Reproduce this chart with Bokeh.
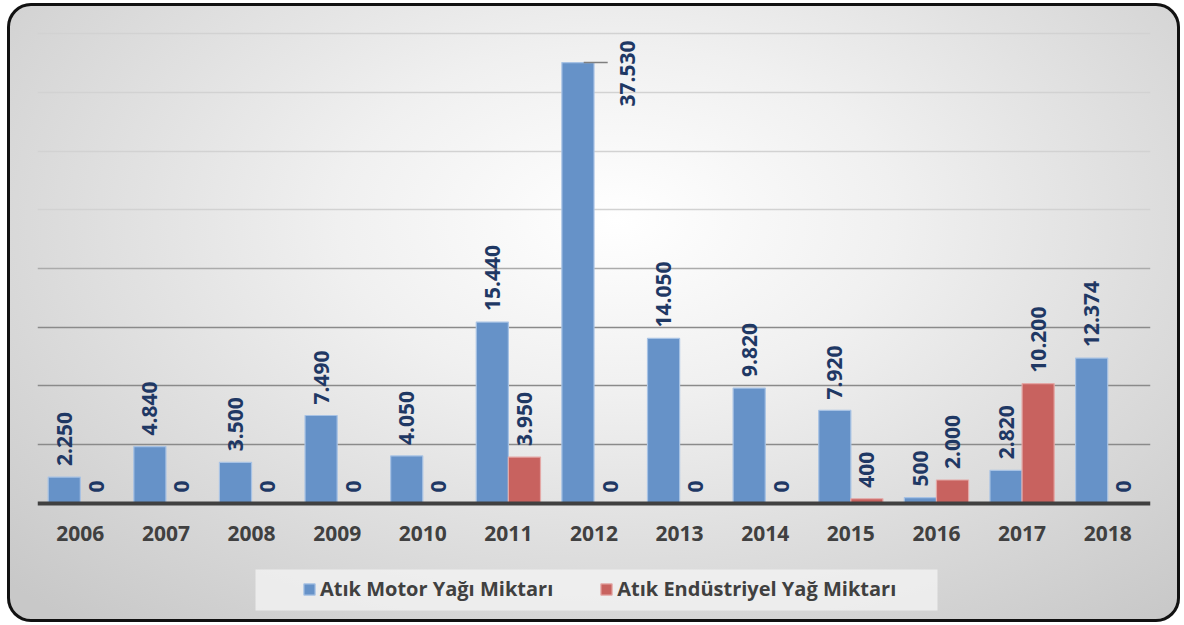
import math
from bokeh.plotting import figure
from bokeh.models import (Range1d, FixedTicker, Grid, Legend, LegendItem,
                          ColumnDataSource, BoxAnnotation)
from bokeh.core.properties import value
from bokeh.embed import file_html
from bokeh.resources import INLINE

# ---------------- data ----------------
years = ["2006", "2007", "2008", "2009", "2010", "2011", "2012",
         "2013", "2014", "2015", "2016", "2017", "2018"]
motor_oil = [2250, 4840, 3500, 7490, 4050, 15440, 37530,
             14050, 9820, 7920, 500, 2820, 12374]
industrial_oil = [0, 0, 0, 0, 0, 3950, 0, 0, 0, 400, 2000, 10200, 0]
series_names = ["Atık Motor Yağı Miktarı", "Atık Endüstriyel Yağ Miktarı"]
grid_values = [5000, 10000, 15000, 20000, 25000, 30000, 35000, 40000]

# ---------------- style ----------------
FONT = "Open Sans"
BLUE, BLUE_EDGE = "#6692c8", "#a7c2e4"
RED, RED_EDGE = "#c8625f", "#e4a8a6"
LABEL_COLOR = "#1f3864"
AXIS_COLOR = "#404040"
BAR_W = 0.375
# frame extends below the baseline so the legend can sit inside it
Y_START, Y_END = -9280, 41790


def fmt(v):
    return f"{v:,}".replace(",", ".")


idx = list(range(len(years)))
src_m = ColumnDataSource(dict(x=[i - BAR_W / 2 for i in idx], top=motor_oil))
src_i = ColumnDataSource(dict(x=[i + BAR_W / 2 for i in idx], top=industrial_oil))

p = figure(width=1173, height=619, output_backend="svg", toolbar_location=None,
           x_range=Range1d(-0.5, len(years) - 0.5), y_range=Range1d(Y_START, Y_END),
           y_axis_location=None, min_border_left=30, min_border_right=30,
           min_border_top=9, min_border_bottom=10)
p.outline_line_color = None
p.background_fill_alpha = 0
p.border_fill_alpha = 0
p.styles = {
    "margin": "3px 0 0 7px",
    "background": "radial-gradient(ellipse 72% 85% at 52% 35%, #ffffff 0%, #f0f0f0 33%, #d5d5d5 78%, #c8c8c8 100%)",
    "border-radius": "24px",
    "box-shadow": "inset 0 0 0 3px #111111",
}

# grid lines (darker near the base, lighter above)
p.xgrid.visible = False
p.ygrid.ticker = FixedTicker(ticks=grid_values[:3])
p.ygrid.grid_line_color = "#8a8a8a"
p.ygrid.grid_line_width = 1.5
g2 = Grid(dimension=1, ticker=FixedTicker(ticks=grid_values[3:4]),
          grid_line_color="#ababab", grid_line_width=1.5)
g3 = Grid(dimension=1, ticker=FixedTicker(ticks=grid_values[4:]),
          grid_line_color="#d2d2d2", grid_line_width=1.5)
p.add_layout(g2)
p.add_layout(g3)

# bars
rb = p.vbar(x="x", top="top", width=BAR_W, source=src_m, fill_color=BLUE,
            line_color=BLUE_EDGE, line_width=1.2)
rr = p.vbar(x="x", top="top", width=BAR_W, source=src_i, fill_color=RED,
            line_color=RED_EDGE, line_width=1.2)

# data labels
normal = dict(x=[], y=[], t=[])
high = dict(x=[], y=[], t=[])
for xs, vals in ((src_m.data["x"], motor_oil), (src_i.data["x"], industrial_oil)):
    for x, v in zip(xs, vals):
        target = high if v > 0.85 * 40000 else normal
        target["x"].append(x)
        target["y"].append(v)
        target["t"].append(fmt(v))

p.text(x="x", y="y", text="t", source=ColumnDataSource(normal), angle=math.pi / 2,
       text_align="left", text_baseline="middle", y_offset=-11,
       text_font=value(FONT), text_font_style="bold", text_font_size="21px",
       text_color=LABEL_COLOR)
p.text(x="x", y="y", text="t", source=ColumnDataSource(high), angle=math.pi / 2,
       text_align="right", text_baseline="middle", x_offset=50, y_offset=-22,
       text_font=value(FONT), text_font_style="bold", text_font_size="21px",
       text_color=LABEL_COLOR)
# leader line for the label placed beside the tallest bar
p.segment(x0=[x + BAR_W / 2 - 0.12 for x in high["x"]], y0=high["y"],
          x1=[x + BAR_W / 2 + 0.16 for x in high["x"]], y1=high["y"],
          line_color="#7f7f7f", line_width=1.5)

# x axis drawn at the zero baseline
p.xaxis.fixed_location = 0
p.xaxis.ticker = FixedTicker(ticks=idx)
p.xaxis.major_label_overrides = {i: y for i, y in zip(idx, years)}
p.xaxis.axis_line_color = AXIS_COLOR
p.xaxis.axis_line_width = 4
p.xaxis.major_tick_line_color = None
p.xaxis.minor_tick_line_color = None
p.xaxis.major_tick_in = 0
p.xaxis.major_tick_out = 0
p.xaxis.major_label_standoff = 23
p.xaxis.major_label_text_font = FONT
p.xaxis.major_label_text_font_style = "bold"
p.xaxis.major_label_text_font_size = "21px"
p.xaxis.major_label_text_color = AXIS_COLOR

# legend background box (canvas pixels, top-down)
p.add_layout(BoxAnnotation(left=248, right=930, top=566, bottom=607,
                           left_units="canvas", right_units="canvas",
                           bottom_units="canvas", top_units="canvas",
                           fill_color="#f4f4f4", fill_alpha=0.75, line_color=None,
                           level="underlay"))

legend = Legend(items=[LegendItem(label=series_names[0], renderers=[rb]),
                       LegendItem(label=series_names[1], renderers=[rr])],
                orientation="horizontal", location=(265, 10),
                padding=0, margin=0, spacing=46,
                glyph_width=14, glyph_height=14, label_standoff=4,
                label_text_font=FONT, label_text_font_style="bold",
                label_text_font_size="20px", label_text_color=AXIS_COLOR,
                background_fill_alpha=0, border_line_alpha=0)
p.add_layout(legend)

open("out.html", "w").write(file_html(p, INLINE))
